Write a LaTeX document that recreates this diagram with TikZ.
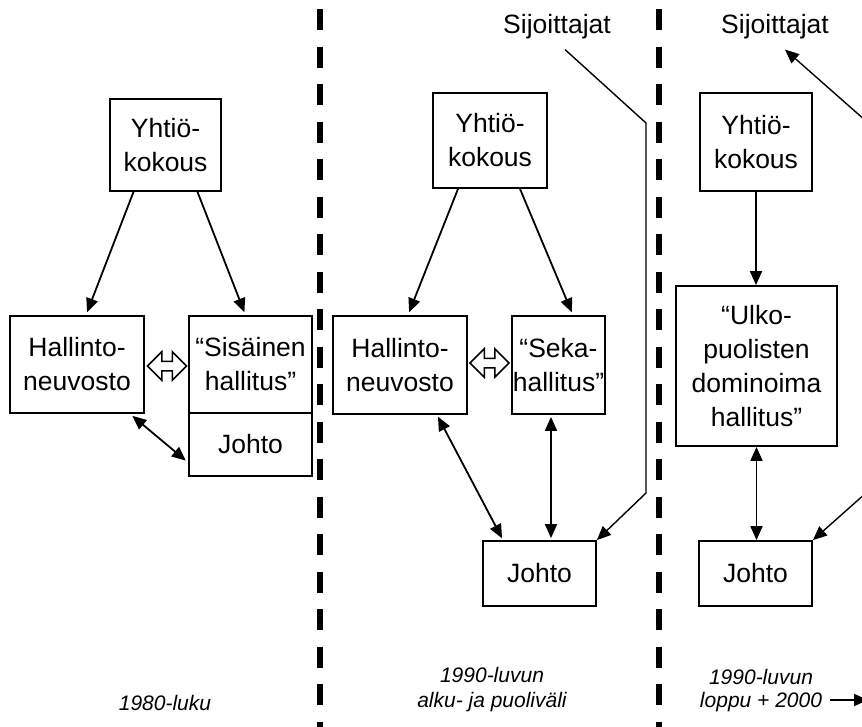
\documentclass[tikz,border=0pt]{standalone}
\usepackage{fontspec}
\setmainfont{Liberation Sans}
\usetikzlibrary{arrows.meta,positioning,shapes.arrows,calc}
\newcommand{\boxfont}{\fontsize{26.5}{34}\selectfont}
\newcommand{\periodfont}{\fontsize{21}{25}\selectfont\itshape}
\tikzset{
  orgbox/.style={
    rectangle,
    draw=black,
    line width=1.8pt,
    align=center,
    inner sep=0pt,
    font=\boxfont
  },
  plaintext/.style={
    inner sep=0pt,
    align=center,
    font=\boxfont
  },
  periodlabel/.style={
    inner sep=0pt,
    align=center,
    font=\periodfont
  },
  swaparrow/.style={
    double arrow,
    draw=black,
    line width=1.5pt,
    inner xsep=4pt,
    inner ysep=4pt,
    double arrow head extend=9.5pt,
    minimum height=39pt
  },
  flowline/.style={-{Triangle[length=14pt,width=12pt]},line width=1.8pt},
  twoway/.style={{Triangle[length=14pt,width=12pt]}-{Triangle[length=14pt,width=12pt]},line width=1.8pt},
  divider/.style={line width=6pt,dash pattern=on 21pt off 16.5pt}
}

\begin{document}
\begin{tikzpicture}[x=1pt,y=-1pt]
  \useasboundingbox (0,0) rectangle (862,726);
  \clip (0,0) rectangle (862,726);

  % period dividers
  \draw[divider] (320,9) -- (320,740);
  \draw[divider] (659,9) -- (659,740);

  % 1980-luku
  \node[orgbox, minimum width=111pt, minimum height=92pt] (yht1) at (165.5,145) {Yhtiö-\\kokous};
  \node[orgbox, minimum width=134pt, minimum height=97pt] (hall1) at (77,364.5) {Hallinto-\\neuvosto};
  \node[orgbox, minimum width=123pt, minimum height=97pt] (sis1) at (250.5,364.5) {“Sisäinen\\hallitus”};
  \node[orgbox, minimum width=123pt, minimum height=63pt] (johto1) at (250.5,444.5) {Johto};
  \node[swaparrow] (swap1) at (167,366) {};
  \draw[flowline, shorten >=3pt] ([xshift=-32pt]yht1.south) -- ([xshift=9pt]hall1.north);
  \draw[flowline, shorten >=3pt] ([xshift=32pt]yht1.south) -- ([xshift=-5pt]sis1.north);
  \draw[twoway, shorten <=3pt, shorten >=3pt] ([xshift=53pt]hall1.south) -- ([yshift=-18pt]johto1.west);
  \node[periodlabel] (per1) at (165,703) {1980-luku};

  % 1990-luvun alku- ja puolivali
  \node[plaintext] (sij2) at (557,27) {Sijoittajat};
  \node[orgbox, minimum width=114pt, minimum height=95pt] (yht2) at (490,140.5) {Yhtiö-\\kokous};
  \node[orgbox, minimum width=134pt, minimum height=98pt] (hall2) at (400,365) {Hallinto-\\neuvosto};
  \node[orgbox, minimum width=93pt, minimum height=98pt] (seka2) at (558.5,365) {“Seka-\\hallitus”};
  \node[orgbox, minimum width=113pt, minimum height=65pt] (johto2) at (539.5,573.5) {Johto};
  \node[swaparrow] (swap2) at (489.5,363) {};
  \coordinate (bend2a) at (646,123);
  \coordinate (bend2b) at (646,493);
  \draw[flowline, shorten >=3pt] ([xshift=-32pt]yht2.south) -- ([xshift=8pt]hall2.north);
  \draw[flowline, shorten >=3pt] ([xshift=30pt]yht2.south) -- ([xshift=14.5pt]seka2.north);
  \draw[twoway, shorten <=2pt, shorten >=2pt] ([xshift=37pt]hall2.south) -- ([xshift=-36.5pt]johto2.north);
  \draw[twoway, shorten <=2pt, shorten >=2pt] ([xshift=-7.5pt]seka2.south) -- ([xshift=-7.5pt]seka2.south |- johto2.north);
  \draw[flowline, line width=1.4pt] ([xshift=8pt,yshift=-10pt]sij2.south) -- (bend2a) -- (bend2b) -- (johto2.north east);
  \node[periodlabel] (per2) at (492,689.5) {1990-luvun\\alku- ja puoliväli};

  % 1990-luvun loppu + 2000
  \node[plaintext] (sij3) at (775,27) {Sijoittajat};
  \node[orgbox, minimum width=112pt, minimum height=98pt] (yht3) at (756,142) {Yhtiö-\\kokous};
  \node[orgbox, minimum width=161pt, minimum height=160pt] (ulko3) at (756.5,366) {“Ulko-\\puolisten\\dominoima\\hallitus”};
  \node[orgbox, minimum width=113pt, minimum height=65pt] (johto3) at (755.5,573.5) {Johto};
  \coordinate (bend3a) at (866,121);
  \coordinate (bend3b) at (866,493);
  \draw[flowline] (yht3.south) -- (yht3.south |- ulko3.north);
  \draw[twoway] (ulko3.south) -- (ulko3.south |- johto3.north);
  \draw[twoway, line width=1.4pt] ([xshift=10pt,yshift=-10pt]sij3.south) -- (bend3a) -- (bend3b) -- (johto3.north east);
  \node[periodlabel] (per3a) at (761,677) {1990-luvun};
  \node[periodlabel] (per3b) at (761,702) {loppu + 2000};
  \coordinate (edge3) at (868,0 |- per3b.east);
  \draw[flowline] ([xshift=8pt,yshift=2pt]per3b.east) -- ([yshift=2pt]edge3);
\end{tikzpicture}
\end{document}
